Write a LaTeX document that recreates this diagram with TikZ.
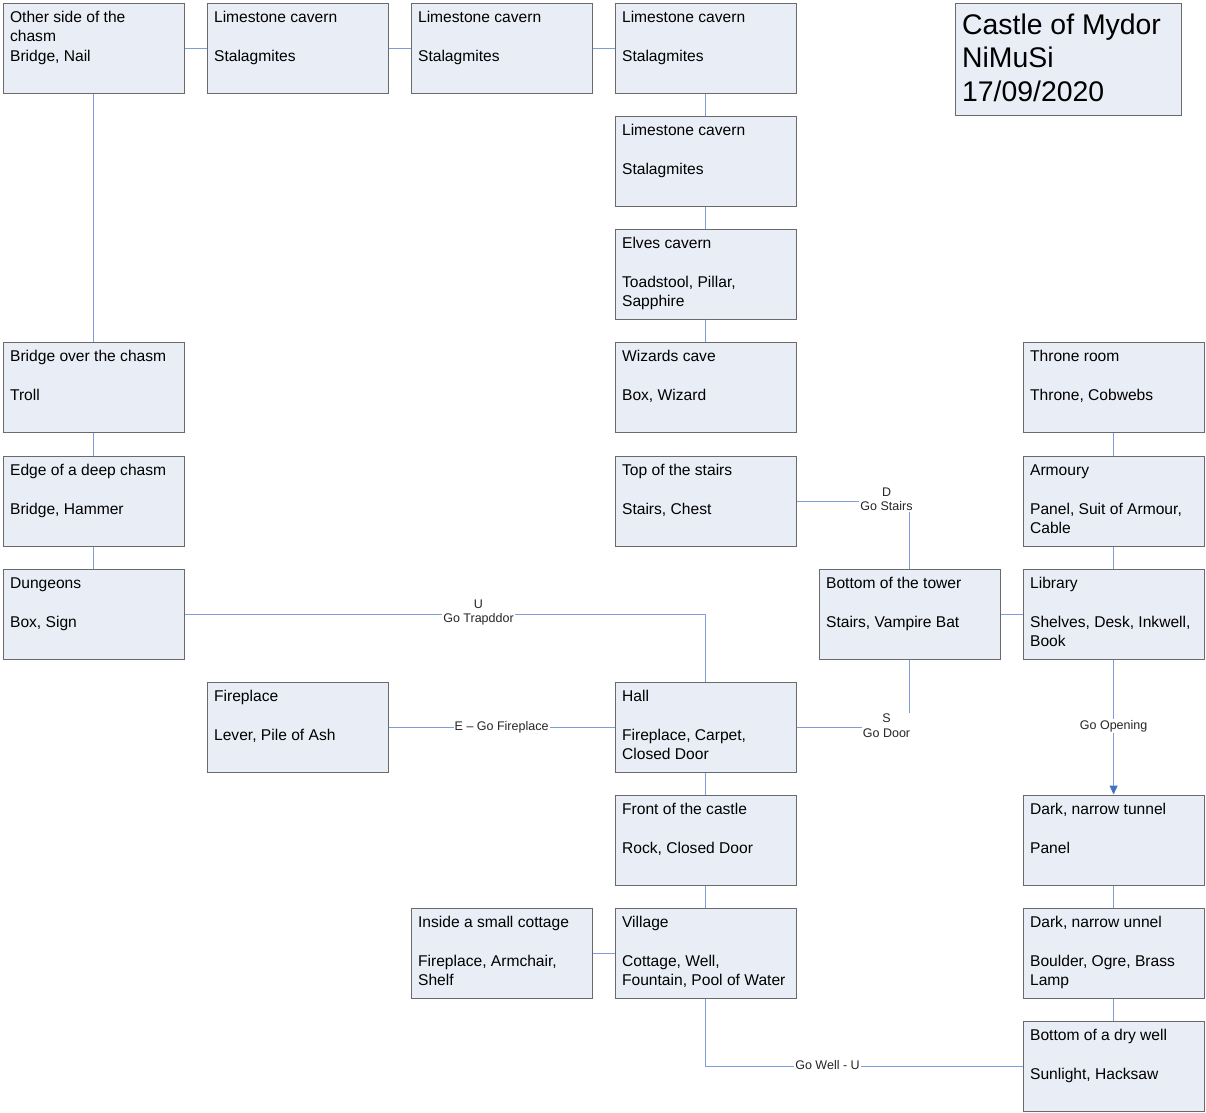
\documentclass[tikz,border=0pt]{standalone}
\usepackage{fontspec}
\setmainfont{Liberation Sans}
\usetikzlibrary{arrows.meta}
\definecolor{boxfill}{HTML}{E9EDF6}
\definecolor{boxline}{HTML}{6A6A6A}
\definecolor{conncol}{HTML}{7F9ED8}
\definecolor{arrcol}{HTML}{4472C4}
\newcommand{\roomtxt}[1]{\parbox[c][90pt][t]{167pt}{\fontsize{15.6}{19.2}\selectfont\rule{0pt}{19.5pt}#1}}
\newcommand{\titletxt}[1]{\parbox[c][112pt][t]{212pt}{\fontsize{28.4}{33.5}\selectfont\rule{0pt}{31pt}#1}}
\begin{document}
\begin{tikzpicture}[x=1pt,y=1pt,
  room/.style={draw=boxline, fill=boxfill, line width=1.2pt, anchor=north west, inner xsep=7pt, inner ysep=0pt, align=left},
  conn/.style={draw=conncol, line width=1.1pt},
  lbl/.style={fill=white, inner sep=1pt, font=\fontsize{12.5}{14.5}\selectfont, align=center, text=black!85}]
\useasboundingbox (0,0) rectangle (1206,-1112);
\begin{scope}[shift={(0.5,-0.5)}]
% title
\node[room] (title) at (954,-2) {\titletxt{Castle of Mydor\\NiMuSi\\17/09/2020}};
% rooms
\node[room] (a1) at (2,-2) {\roomtxt{Other side of the\\chasm\\Bridge, Nail}};
\node[room] (b1) at (206,-2) {\roomtxt{Limestone cavern\\[19.2pt]Stalagmites}};
\node[room] (c1) at (410,-2) {\roomtxt{Limestone cavern\\[19.2pt]Stalagmites}};
\node[room] (d1) at (614,-2) {\roomtxt{Limestone cavern\\[19.2pt]Stalagmites}};
\node[room] (d2) at (614,-115) {\roomtxt{Limestone cavern\\[19.2pt]Stalagmites}};
\node[room] (d3) at (614,-228) {\roomtxt{Elves cavern\\[19.2pt]Toadstool, Pillar,\\Sapphire}};
\node[room] (d4) at (614,-341) {\roomtxt{Wizards cave\\[19.2pt]Box, Wizard}};
\node[room] (d5) at (614,-455) {\roomtxt{Top of the stairs\\[19.2pt]Stairs, Chest}};
\node[room] (a4) at (2,-341) {\roomtxt{Bridge over the chasm\\[19.2pt]Troll}};
\node[room] (a5) at (2,-455) {\roomtxt{Edge of a deep chasm\\[19.2pt]Bridge, Hammer}};
\node[room] (a6) at (2,-568) {\roomtxt{Dungeons\\[19.2pt]Box, Sign}};
\node[room] (f4) at (1022,-341) {\roomtxt{Throne room\\[19.2pt]Throne, Cobwebs}};
\node[room] (f5) at (1022,-455) {\roomtxt{Armoury\\[19.2pt]Panel, Suit of Armour,\\Cable}};
\node[room] (e6) at (818,-568) {\roomtxt{Bottom of the tower\\[19.2pt]Stairs, Vampire Bat}};
\node[room] (f6) at (1022,-568) {\roomtxt{Library\\[19.2pt]Shelves, Desk, Inkwell,\\Book}};
\node[room] (b7) at (206,-681) {\roomtxt{Fireplace\\[19.2pt]Lever, Pile of Ash}};
\node[room] (d7) at (614,-681) {\roomtxt{Hall\\[19.2pt]Fireplace, Carpet,\\Closed Door}};
\node[room] (d8) at (614,-794) {\roomtxt{Front of the castle\\[19.2pt]Rock, Closed Door}};
\node[room] (f8) at (1022,-794) {\roomtxt{Dark, narrow tunnel\\[19.2pt]Panel}};
\node[room] (c9) at (410,-907) {\roomtxt{Inside a small cottage\\[19.2pt]Fireplace, Armchair,\\Shelf}};
\node[room] (d9) at (614,-907) {\roomtxt{Village\\[19.2pt]Cottage, Well,\\Fountain, Pool of Water}};
\node[room] (f9) at (1022,-907) {\roomtxt{Dark, narrow unnel\\[19.2pt]Boulder, Ogre, Brass\\Lamp}};
\node[room] (f10) at (1022,-1020) {\roomtxt{Bottom of a dry well\\[19.2pt]Sunlight, Hacksaw}};
% connectors
\draw[conn] (a1) -- (b1);
\draw[conn] (b1) -- (c1);
\draw[conn] (c1) -- (d1);
\draw[conn] (d1) -- (d2);
\draw[conn] (d2) -- (d3);
\draw[conn] (d3) -- (d4);
\draw[conn] (a1) -- (a4);
\draw[conn] (a4) -- (a5);
\draw[conn] (a5) -- (a6);
\draw[conn] (f4) -- (f5);
\draw[conn] (f5) -- (f6);
\draw[conn] (e6) -- (f6);
\draw[conn] (f8) -- (f9);
\draw[conn] (f9) -- (f10);
\draw[conn] (d7) -- (d8);
\draw[conn] (d8) -- (d9);
\draw[conn] (c9) -- (d9);
\draw[conn] (d5.east) -| (e6.north);
\node[lbl] (lstairs) at (886,-498.5) {D\\Go Stairs};
\draw[conn] (e6.south) |- (d7.east);
\node[lbl] (ldoor) at (886,-725) {S\\Go Door};
\draw[conn] (a6.east) -| (d7.north);
\node[lbl] (ltrap) at (478,-612) {U\\Go Trapddor};
\draw[conn] (b7) -- (d7) node[lbl, midway] (lfire) {E -- Go Fireplace};
\draw[conn, -{Triangle[length=9pt,width=8pt,color=arrcol]}] (f6.south) -- (f8.north) node[lbl, pos=0.49] (lopen) {Go Opening};
\draw[conn] (d9.south) |- (f10.west);
\node[lbl] (lwell) at (827,-1065) {Go Well - U};
\end{scope}
\end{tikzpicture}
\end{document}
